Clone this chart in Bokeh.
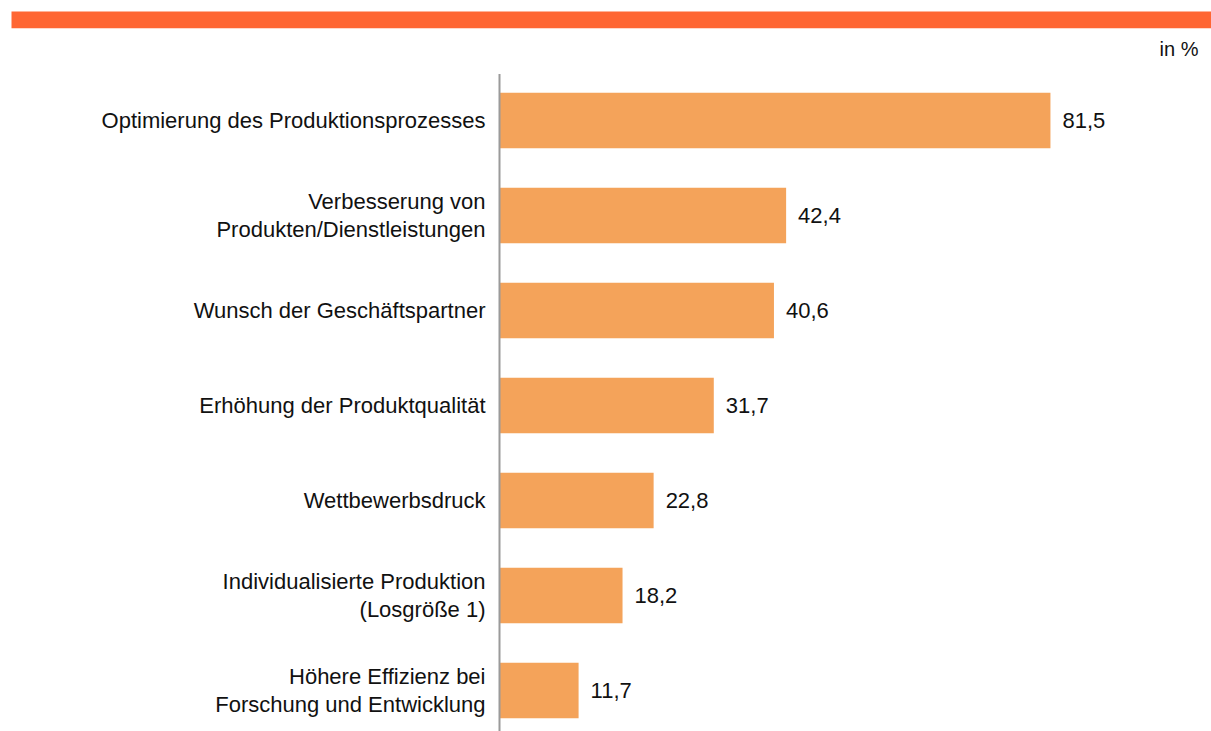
from bokeh.plotting import figure
from bokeh.models import ColumnDataSource, Range1d, BoxAnnotation, Label
from bokeh.core.properties import value
from bokeh.embed import file_html
from bokeh.resources import INLINE

categories = [
    "Optimierung des Produktionsprozesses",
    "Verbesserung von\nProdukten/Dienstleistungen",
    "Wunsch der Geschäftspartner",
    "Erhöhung der Produktqualität",
    "Wettbewerbsdruck",
    "Individualisierte Produktion\n(Losgröße 1)",
    "Höhere Effizienz bei\nForschung und Entwicklung",
]
values = [81.5, 42.4, 40.6, 31.7, 22.8, 18.2, 11.7]
value_labels = ["81,5", "42,4", "40,6", "31,7", "22,8", "18,2", "11,7"]
unit_label = "in %"

W, H = 1211, 731
FONT = "Liberation Sans"
FS = "22px"

# scale: pixels per unit and per category slot
px_x = 6.76
px_y = 95.0
x0_px = 499.0   # canvas x of value 0
y0_px = 120.0   # canvas y of first category centre

x_start = -x0_px / px_x
x_end = (W - x0_px) / px_x
y_top = -y0_px / px_y
y_bot = (H - y0_px) / px_y

idx = list(range(len(categories)))
src = ColumnDataSource(dict(y=idx, v=values, cat=categories, lab=value_labels))

p = figure(width=W, height=H, output_backend="svg", toolbar_location=None,
           x_range=Range1d(x_start, x_end), y_range=Range1d(y_bot, y_top),
           min_border=0, outline_line_color=None)
p.xaxis.visible = False
p.yaxis.visible = False
p.xgrid.visible = False
p.ygrid.visible = False
p.background_fill_color = "white"
p.border_fill_color = "white"

# top band
p.add_layout(BoxAnnotation(left=x_start + 11 / px_x, right=x_end,
                           top=y_top + 11 / px_y, bottom=y_top + 27.7 / px_y,
                           fill_color="#FF6633", fill_alpha=1, line_alpha=0, level="underlay"))

p.hbar(y="y", left=0, right="v", height=0.585, source=src,
       fill_color="#F4A35A", line_color=None)

# axis line
p.segment(x0=0, x1=0, y0=-0.49, y1=y_bot, line_color="#9A9A9A", line_width=2)

p.text(x=0, y="y", text="cat", source=src, x_offset=-14,
       text_align="right", text_baseline="middle",
       text_font=value(FONT), text_font_size=FS, text_color="#111111",
       text_line_height=1.11)

p.text(x="v", y="y", text="lab", source=src, x_offset=12,
       text_align="left", text_baseline="middle",
       text_font=value(FONT), text_font_size=FS, text_color="#111111")

p.add_layout(Label(x=1198, y=H - 48, x_units="screen", y_units="screen",
                   text=unit_label, text_align="right", text_baseline="middle",
                   text_font=FONT, text_font_size="20px", text_color="#111111"))

open("out.html", "w").write(file_html(p, INLINE))
